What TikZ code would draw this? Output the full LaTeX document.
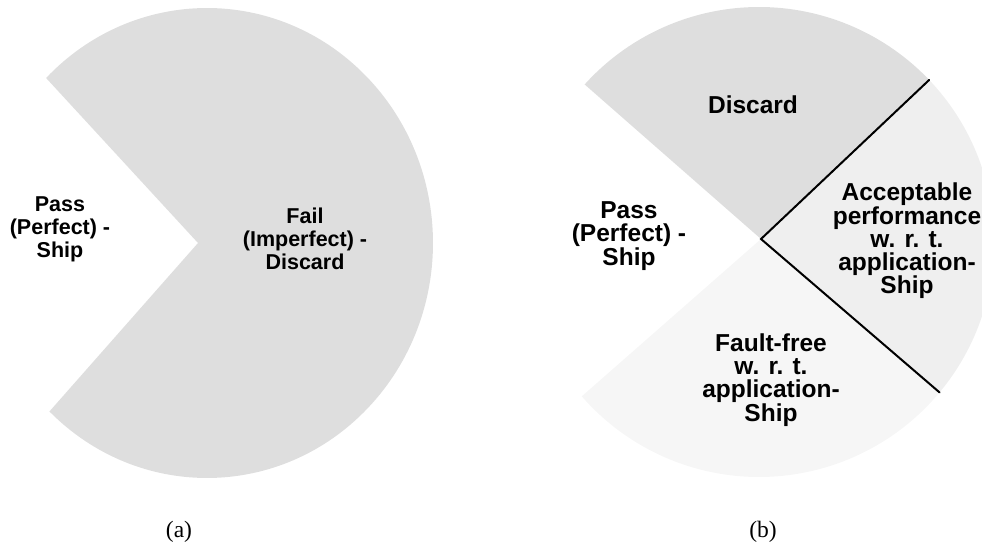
\documentclass[tikz,border=0pt]{standalone}
\usepackage{fontspec}
\setmainfont{Liberation Serif}
\newfontfamily\lblfont{Liberation Sans}
\definecolor{gA}{RGB}{222,222,222}
\definecolor{gB}{RGB}{239,239,239}
\definecolor{gC}{RGB}{246,246,246}
\begin{document}
\begin{tikzpicture}[x=1pt,y=1pt,
  lbl/.style={font=\lblfont\bfseries\fontsize{21.5}{23}\selectfont, align=center, inner sep=0pt},
  lblbig/.style={font=\lblfont\bfseries\fontsize{24.5}{23.3}\selectfont, align=center, inner sep=0pt},
  captionlbl/.style={font=\fontsize{23.5}{26}\selectfont, inner sep=0pt},
  divider/.style={line width=2pt, line cap=round}]
\useasboundingbox (0,0) rectangle (982,550);
\clip (0,0) rectangle (982,550);
% (a)
\coordinate (va) at (198,307);
\coordinate (ca) at (207,307);
\fill[gA] (va) -- ([shift={(ca)}]135.4:226pt and 235pt)
  arc[start angle=135.4, end angle=-134.2, x radius=226pt, y radius=235pt] -- cycle;
\node[lbl] (passa) at (60,321) {Pass\\(Perfect) -\\Ship};
\node[lbl] (faila) at (305,311) {Fail\\(Imperfect) -\\Discard};
\node[captionlbl] (capa) at (179,18) {(a)};
% (b)
\coordinate (vb) at (761,311);
\coordinate (cb) at (759,308);
\coordinate (ptop) at ([shift={(cb)}]43.6:235pt);
\coordinate (pbot) at ([shift={(cb)}]-39.8:235pt);
\fill[gA] (vb) -- ([shift={(cb)}]137.9:235pt)
  arc[start angle=137.9, end angle=43.6, radius=235pt] -- cycle;
\fill[gB] (vb) -- (ptop)
  arc[start angle=43.6, end angle=-39.8, radius=235pt] -- cycle;
\fill[gC] (vb) -- (pbot)
  arc[start angle=-39.8, end angle=-138.95, radius=235pt] -- cycle;
\draw[divider] (ptop) -- (vb) -- (pbot);
\node[lblbig] (discb) at (753,445) {Discard};
\node[lblbig] (passb) at (629,314) {Pass\\(Perfect) -\\Ship};
\node[lblbig] (accb) at (907,309) {Acceptable\\performance\\w. r. t.\\application-\\Ship};
\node[lblbig] (faultb) at (771,170) {Fault-free\\w. r. t.\\application-\\Ship};
\node[captionlbl] (capb) at (763,18) {(b)};
\end{tikzpicture}
\end{document}
